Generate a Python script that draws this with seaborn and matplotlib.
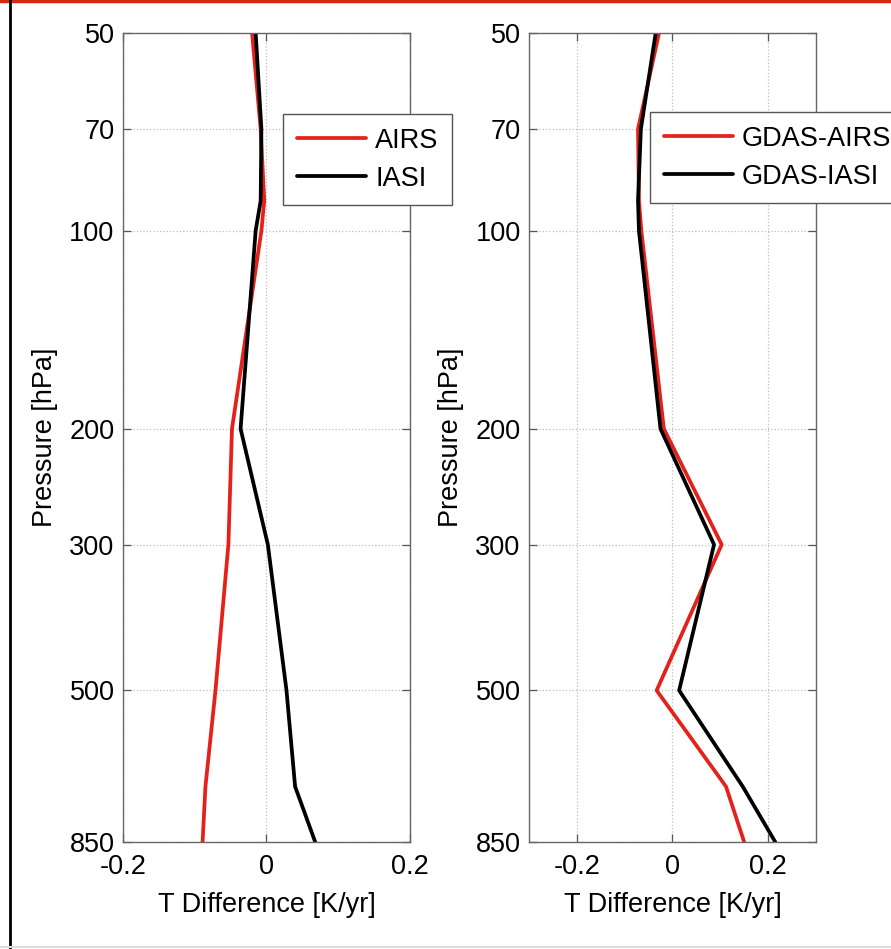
import matplotlib
matplotlib.use("Agg")
import matplotlib.pyplot as plt
from matplotlib.lines import Line2D
from matplotlib.ticker import FixedLocator, FixedFormatter, NullLocator
import seaborn as sns
import pandas as pd

# ---- data ----
pressure = [50, 70, 90, 100, 200, 300, 500, 700, 850]
airs = [-0.020, -0.008, -0.003, -0.007, -0.048, -0.053, -0.071, -0.085, -0.089]
iasi = [-0.015, -0.007, -0.008, -0.015, -0.036, 0.002, 0.028, 0.040, 0.068]
gdas_airs = [-0.028, -0.072, -0.070, -0.065, -0.018, 0.103, -0.033, 0.112, 0.150]
gdas_iasi = [-0.035, -0.066, -0.072, -0.070, -0.025, 0.087, 0.014, 0.147, 0.215]

yticks = [50, 70, 100, 200, 300, 500, 850]
xticks = [-0.2, 0, 0.2]
xticklabels = ["-0.2", "0", "0.2"]

RED = "#e5211b"
BLACK = "#000000"

sns.set_theme(style="white")
plt.rcParams["font.family"] = ["Liberation Sans", "DejaVu Sans"]
plt.rcParams["text.color"] = "black"
plt.rcParams["axes.labelcolor"] = "black"

fig = plt.figure(figsize=(8.91, 9.49), dpi=100)
fs = 19.5
LW = 2.7

def make_df(names, series):
    rows = []
    for n, s in zip(names, series):
        for p, v in zip(pressure, s):
            rows.append({"series": n, "p": p, "T": v})
    return pd.DataFrame(rows)

panels = [
    (["AIRS", "IASI"], [airs, iasi], (-0.2, 0.2), [0.138, 0.1128, 0.322, 0.8525], (283, 114)),
    (["GDAS-AIRS", "GDAS-IASI"], [gdas_airs, gdas_iasi], (-0.3, 0.3), [0.5937, 0.1128, 0.322, 0.8525], (650, 112)),
]

for names, series, xlim, pos, legpos in panels:
    ax = fig.add_axes(pos)
    df = make_df(names, series)
    sns.lineplot(data=df, x="T", y="p", hue="series", orient="y",
                 palette={names[0]: RED, names[1]: BLACK}, linewidth=LW,
                 ax=ax, legend=False, estimator=None)
    ax.set_yscale("log")
    ax.set_ylim(850, 50)
    ax.set_xlim(*xlim)
    ax.yaxis.set_major_locator(FixedLocator(yticks))
    ax.yaxis.set_major_formatter(FixedFormatter([str(t) for t in yticks]))
    ax.yaxis.set_minor_locator(NullLocator())
    ax.set_xticks(xticks)
    ax.set_xticklabels(xticklabels)
    ax.grid(True, which="major", linestyle=":", color="#bdbdbd", linewidth=0.9)
    ax.tick_params(axis="both", which="major", direction="in", length=6, width=0.9,
                   color="#555555", labelsize=fs, labelcolor="black",
                   top=True, right=True, left=True, bottom=True)
    ax.tick_params(axis="x", pad=9)
    ax.tick_params(axis="y", pad=6)
    for sp in ax.spines.values():
        sp.set_color("#666666")
        sp.set_linewidth(1.0)
        sp.set_visible(True)
    ax.set_xlabel("T Difference [K/yr]", fontsize=fs, labelpad=8)
    ax.set_ylabel("Pressure [hPa]", fontsize=fs, labelpad=8)
    handles = [Line2D([], [], color=RED, lw=LW), Line2D([], [], color=BLACK, lw=LW)]
    lx, ly = legpos
    leg = ax.legend(handles, names, loc="upper left",
                    bbox_to_anchor=(lx / 891, 1 - ly / 949),
                    bbox_transform=fig.transFigure, fontsize=fs,
                    frameon=True, fancybox=False, framealpha=1,
                    handlelength=2.55, handletextpad=0.35, labelspacing=0.45,
                    borderpad=0.5, borderaxespad=0)
    leg.get_frame().set_edgecolor("#555555")
    leg.get_frame().set_linewidth(1.0)

# frame decorations of the original image
fig.add_artist(Line2D([0, 1], [0.9985, 0.9985], transform=fig.transFigure, color="#d42a10", lw=2.5))
fig.add_artist(Line2D([9.5 / 891, 9.5 / 891], [0, 1], transform=fig.transFigure, color="black", lw=2.0))
fig.add_artist(Line2D([0, 1], [2.5 / 949, 2.5 / 949], transform=fig.transFigure, color="#dddddd", lw=1.5))

fig.savefig("out.png", dpi=100)
